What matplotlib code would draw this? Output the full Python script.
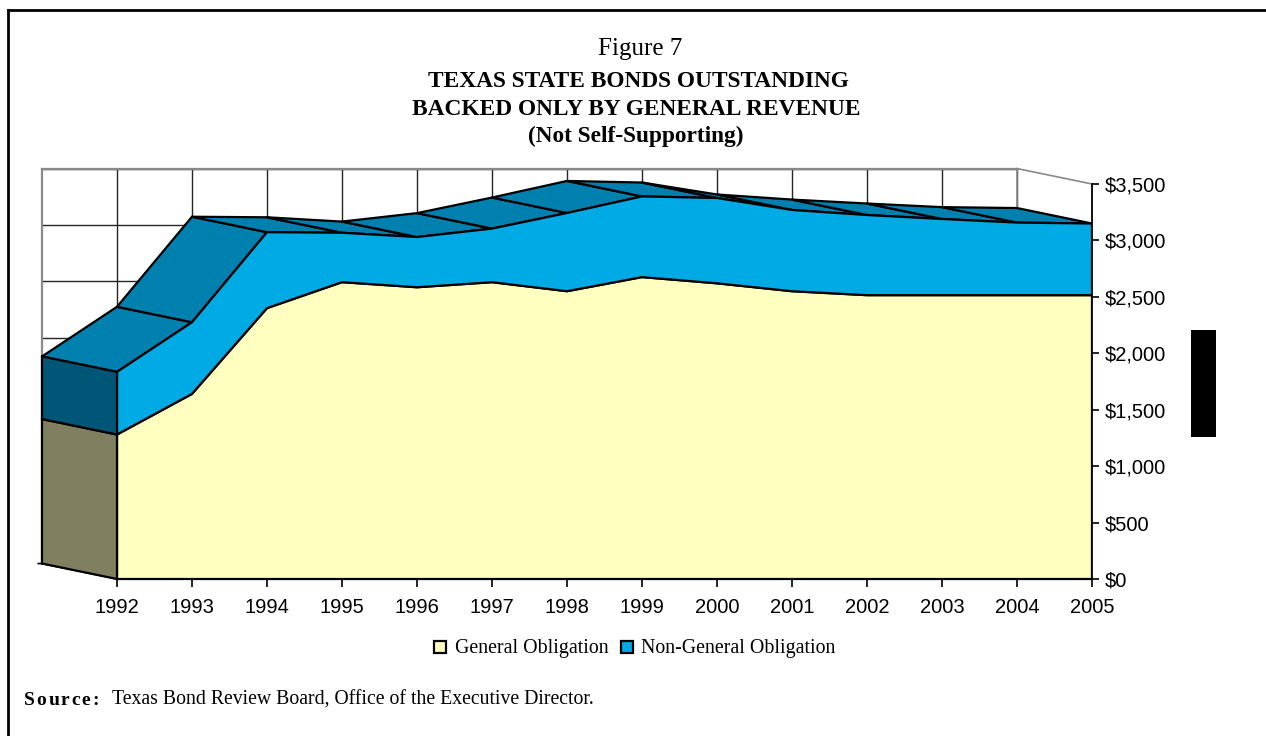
import matplotlib.pyplot as plt
from matplotlib.patches import Polygon, Rectangle
from matplotlib.lines import Line2D
import numpy as np

# values in $ millions
years = list(range(1992, 2006))
general_obligation = [1280, 1640, 2400, 2630, 2585, 2630, 2550, 2675, 2620, 2550, 2515, 2515, 2515, 2515]
non_general_obligation = [555, 635, 673, 438, 445, 475, 693, 715, 756, 720, 710, 675, 643, 635]
y_ticks = [0, 500, 1000, 1500, 2000, 2500, 3000, 3500]
series_names = ["General Obligation", "Non-General Obligation"]

W, H = 1266, 736
yellow = "#FFFFC0"
blue = "#00AAE4"
top_blue = "#0080AE"
cap_blue = "#005676"
cap_olive = "#807F60"
grid_c = "#262626"
wall_c = "#8a8a8a"
serif = ["Liberation Serif", "DejaVu Serif"]
sans = ["Liberation Sans", "DejaVu Sans"]

x = np.array(years, dtype=float)
go = np.array(general_obligation, dtype=float)
tot = go + np.array(non_general_obligation, dtype=float)


def fp(px, py):
    # pixel (from top-left) -> figure fraction
    return px / W, 1 - py / H


fig = plt.figure(figsize=(W / 100, H / 100), dpi=100)

# place axes so that 1992 -> 117px, 2005 -> 1092px, 0 -> 579px, 3500 -> 184px
x0, x1 = 1990.8, 2005.0
y0, y1 = -250, 3700
pxx = 75.0
pxy = 395 / 3500
left = 117 - (1992 - x0) * pxx
right = 1092 + (x1 - 2005) * pxx
bottom = 579 + (0 - y0) * pxy
top = 184 - (y1 - 3500) * pxy
ax = fig.add_axes([left / W, 1 - bottom / H, (right - left) / W, (bottom - top) / H])
ax.set_xlim(x0, x1)
ax.set_ylim(y0, y1)

# depth offset of the 3D effect (one year left, ~15px up)
DX, DY = -1.0, 137

# back wall and side wall gridlines
for v in y_ticks[1:]:
    ax.plot([x[0] + DX, x[-1] + DX], [v + DY, v + DY], color=grid_c, lw=1, zorder=1)
    ax.plot([x[-1] + DX, x[-1]], [v + DY, v], color=wall_c, lw=1.2, zorder=1)
for yr in x[1:]:
    ax.plot([yr + DX, yr + DX], [DY, y_ticks[-1] + DY], color=grid_c, lw=1, zorder=1)
ax.plot([x[0] + DX, x[-1] + DX], [y_ticks[-1] + DY] * 2, color=wall_c, lw=1.6, zorder=1.5)
ax.plot([x[0] + DX, x[0] + DX], [DY, y_ticks[-1] + DY], color=wall_c, lw=1.6, zorder=1.5)
ax.plot([x[-1] + DX, x[-1] + DX], [DY, y_ticks[-1] + DY], color=wall_c, lw=1.2, zorder=1.5)
ax.plot([x[0] + DX - 0.05, x[0] + DX, x[0]], [DY, DY, 0], color="black", lw=1.2, zorder=1.5)

# top surface of the stack
for i in range(len(x) - 1):
    quad = [(x[i], tot[i]), (x[i + 1], tot[i + 1]),
            (x[i + 1] + DX, tot[i + 1] + DY), (x[i] + DX, tot[i] + DY)]
    ax.add_patch(Polygon(quad, closed=True, fc=top_blue, ec="black", lw=1.6,
                         joinstyle="round", zorder=3))

# front faces
go_poly = [(x[0], 0)] + list(zip(x, go)) + [(x[-1], 0)]
ngo_poly = list(zip(x, go)) + list(zip(x[::-1], tot[::-1]))
ax.add_patch(Polygon(go_poly, closed=True, fc=yellow, ec="black", lw=1.6, joinstyle="round", zorder=4))
ax.add_patch(Polygon(ngo_poly, closed=True, fc=blue, ec="black", lw=1.6, joinstyle="round", zorder=4))

# left end caps
ax.add_patch(Polygon([(x[0], 0), (x[0], go[0]), (x[0] + DX, go[0] + DY), (x[0] + DX, DY)],
                     closed=True, fc=cap_olive, ec="black", lw=1.6, zorder=5))
ax.add_patch(Polygon([(x[0], go[0]), (x[0], tot[0]), (x[0] + DX, tot[0] + DY), (x[0] + DX, go[0] + DY)],
                     closed=True, fc=cap_blue, ec="black", lw=1.6, zorder=5))

# axes styling
for s in ["top", "left"]:
    ax.spines[s].set_visible(False)
ax.spines["right"].set_bounds(0, y_ticks[-1])
ax.spines["right"].set_linewidth(1.3)
ax.spines["bottom"].set_position(("data", 0))
ax.spines["bottom"].set_bounds(x[0], x[-1])
ax.spines["bottom"].set_linewidth(1.3)
ax.yaxis.tick_right()
ax.set_yticks(y_ticks)
ax.set_yticklabels([f"${v:,}" for v in y_ticks], fontfamily=sans, fontsize=14.5)
ax.set_xticks(x)
ax.set_xticklabels([str(y) for y in years], fontfamily=sans, fontsize=14.5)
ax.tick_params(axis="y", direction="out", length=5, width=1.2, pad=4)
ax.tick_params(axis="x", direction="out", length=6, width=1.2, pad=8)
ax.patch.set_visible(False)

# titles
fig.text(*fp(640, 55), "Figure 7", ha="center", va="baseline", fontfamily=serif, fontsize=18)
fig.text(*fp(638, 87), "TEXAS STATE BONDS OUTSTANDING", ha="center", va="baseline",
         fontfamily=serif, fontsize=16.8, fontweight="bold")
fig.text(*fp(636, 115), "BACKED ONLY BY GENERAL REVENUE", ha="center", va="baseline",
         fontfamily=serif, fontsize=16.8, fontweight="bold")
fig.text(*fp(636, 142), "(Not Self-Supporting)", ha="center", va="baseline",
         fontfamily=serif, fontsize=16.8, fontweight="bold")

# legend
for (bx, tx), name, col in zip([(434, 455), (621, 641)], series_names, [yellow, blue]):
    fig.add_artist(Rectangle(fp(bx, 653), 12 / W, 12 / H, transform=fig.transFigure,
                             fc=col, ec="black", lw=1.6))
    fig.text(*fp(tx, 653), name, ha="left", va="baseline", fontfamily=serif, fontsize=14.3)

# source note, "Source:" is letter-spaced
r = fig.canvas.get_renderer()
cx = 24
for ch in "Source:":
    t = fig.text(*fp(cx, 705), ch, ha="left", va="baseline", fontfamily=serif,
                 fontsize=14, fontweight="bold")
    cx += t.get_window_extent(r).width + 1.8
fig.text(*fp(112, 705), "Texas Bond Review Board, Office of the Executive Director.",
         ha="left", va="baseline", fontfamily=serif, fontsize=14.2)

# stray black block at right and outer frame
fig.add_artist(Rectangle(fp(1191, 437), 25 / W, 107 / H, transform=fig.transFigure,
                         fc="black", ec="none"))
fig.add_artist(Line2D([8 / W, 8 / W], [0, 1 - 10 / H], transform=fig.transFigure, color="black", lw=2))
fig.add_artist(Line2D([8 / W, 1], [1 - 10 / H, 1 - 10 / H], transform=fig.transFigure, color="black", lw=2))

fig.savefig("out.png", dpi=100)
